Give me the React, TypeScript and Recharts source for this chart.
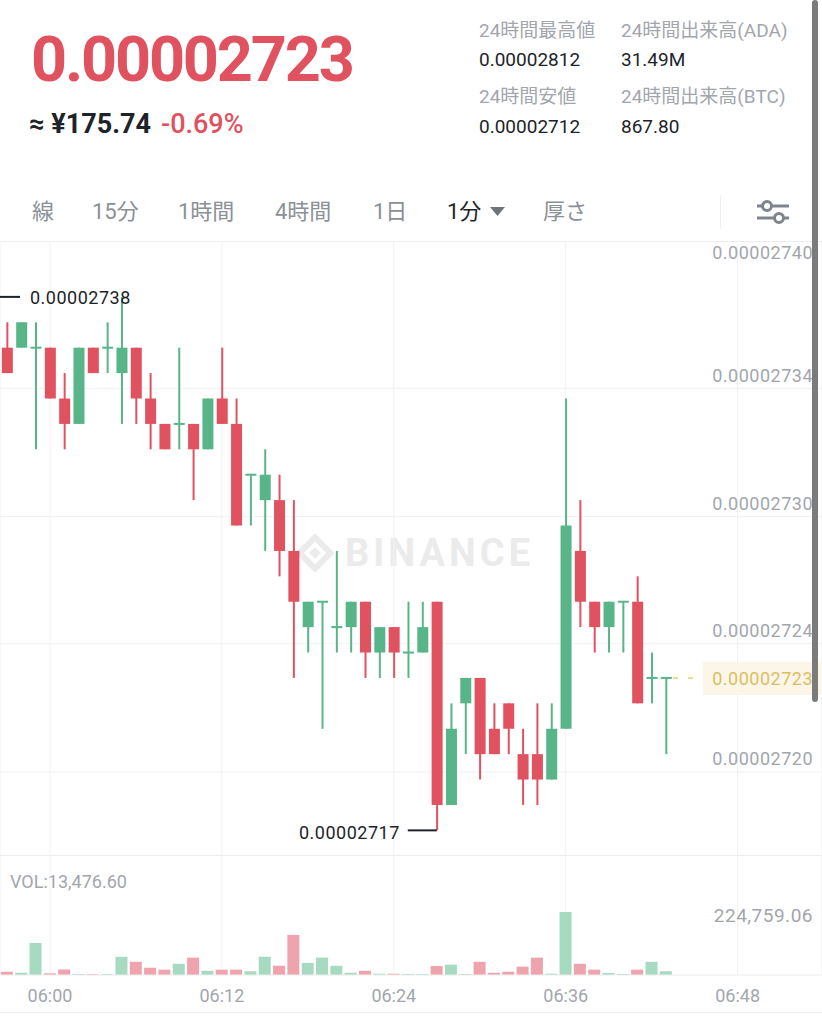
import React from "react";
import {
  ComposedChart,
  Bar,
  Cell,
  XAxis,
  YAxis,
  CartesianGrid,
  ReferenceDot,
} from "recharts";

// 1-minute candles, prices in satoshi (1e-8 BTC)
const TIMES = [
  "05:57", "05:58", "05:59", "06:00", "06:01", "06:02", "06:03", "06:04", "06:05", "06:06",
  "06:07", "06:08", "06:09", "06:10", "06:11", "06:12", "06:13", "06:14", "06:15", "06:16",
  "06:17", "06:18", "06:19", "06:20", "06:21", "06:22", "06:23", "06:24", "06:25", "06:26",
  "06:27", "06:28", "06:29", "06:30", "06:31", "06:32", "06:33", "06:34", "06:35", "06:36",
  "06:37", "06:38", "06:39", "06:40", "06:41", "06:42", "06:43",
];
const OPEN = [
  2736, 2736, 2736, 2736, 2734, 2733, 2736, 2736, 2735, 2736,
  2734, 2733, 2733, 2733, 2732, 2734, 2733, 2731, 2730, 2730,
  2728, 2725, 2726, 2725, 2725, 2726, 2724, 2725, 2724, 2724,
  2726, 2718, 2722, 2723, 2721, 2722, 2720, 2720, 2719, 2721,
  2728, 2726, 2725, 2726, 2726, 2723, 2723,
];
const HIGH = [
  2737, 2737, 2737, 2736, 2735, 2736, 2736, 2737, 2738, 2736,
  2735, 2733, 2736, 2733, 2734, 2736, 2734, 2731, 2732, 2731,
  2730, 2726, 2726, 2728, 2726, 2726, 2725, 2725, 2726, 2726,
  2726, 2722, 2723, 2723, 2722, 2722, 2721, 2722, 2722, 2734,
  2730, 2726, 2726, 2726, 2727, 2724, 2723,
];
const LOW = [
  2735, 2736, 2732, 2734, 2732, 2733, 2735, 2735, 2733, 2733,
  2732, 2732, 2732, 2730, 2732, 2733, 2729, 2729, 2728, 2727,
  2723, 2724, 2721, 2724, 2724, 2723, 2723, 2723, 2723, 2724,
  2717, 2718, 2720, 2719, 2720, 2720, 2718, 2718, 2719, 2721,
  2725, 2724, 2724, 2724, 2722, 2722, 2720,
];
const CLOSE = [
  2735, 2737, 2736, 2734, 2733, 2736, 2735, 2736, 2736, 2734,
  2733, 2732, 2733, 2732, 2734, 2733, 2729, 2731, 2731, 2728,
  2726, 2726, 2726, 2725, 2726, 2724, 2725, 2724, 2724, 2725,
  2718, 2721, 2723, 2720, 2720, 2721, 2719, 2719, 2721, 2729,
  2726, 2725, 2726, 2726, 2722, 2723, 2723,
];
const VOLUME = [
  11800, 8200, 114000, 6000, 20000, 3600, 3000, 3000, 65000, 47000,
  26000, 19000, 40000, 62000, 15000, 19000, 19000, 13000, 65000, 33000,
  143000, 43000, 62000, 33000, 8000, 15000, 4600, 4600, 4000, 3500,
  32000, 37000, 3500, 47000, 8000, 12000, 30000, 62000, 4600, 224759.06,
  40000, 19000, 7000, 3500, 19000, 47000, 13476.6,
];

const TIME_TICKS = ["06:00", "06:12", "06:24", "06:36", "06:48"];
const PRICE_GRID = [2739.4, 2734.4, 2729.35, 2724.35, 2719.3];
const PRICE_LABELS = ["0.00002740", "0.00002734", "0.00002730", "0.00002724", "0.00002720"];
const VOL_TICK = 224759.06;

const STATS = [
  { label: "24時間最高値", value: "0.00002812" },
  { label: "24時間出来高(ADA)", value: "31.49M" },
  { label: "24時間安値", value: "0.00002712" },
  { label: "24時間出来高(BTC)", value: "867.80" },
];
const TABS = ["線", "15分", "1時間", "4時間", "1日", "1分", "厚さ"];

const RED = "#e0525f";
const GREEN = "#58b588";
const VOL_RED = "#efa4ad";
const VOL_GREEN = "#a6dbc1";
const GRID = "#f1f1f1";
const MUTED = "#a2a6ac";
const DARK = "#1e2329";
const FONT = "Roboto, 'Noto Sans CJK JP', sans-serif";

const W = 822;
const X_DOMAIN = [-3.49, 53.89];
const P_DOMAIN = [2716.03, 2740.2];

const toMin = (s: string) => {
  const [h, m] = s.split(":").map(Number);
  return h * 60 + m - 360;
};
const fmt = (v: number) => (v / 1e8).toFixed(8);

const data = TIMES.map((time, i) => ({
  t: toMin(time),
  open: OPEN[i],
  high: HIGH[i],
  low: LOW[i],
  close: CLOSE[i],
  vol: VOLUME[i],
  up: CLOSE[i] >= OPEN[i],
}));

const last = data[data.length - 1];
const maxHigh = Math.max(...HIGH);
const minLow = Math.min(...LOW);
const minIdx = LOW.indexOf(minLow);

const Candle = (props: any) => {
  const { x, y, width, height, payload } = props;
  const top = Math.min(y, y + height);
  const h = Math.abs(height);
  const color = payload.up ? GREEN : RED;
  const ratio = h / (payload.high - payload.low);
  const yOf = (v: number) => top + (payload.high - v) * ratio;
  const cx = x + width / 2;
  const bTop = yOf(Math.max(payload.open, payload.close));
  const bBot = yOf(Math.min(payload.open, payload.close));
  return (
    <g>
      <line x1={cx} x2={cx} y1={top} y2={top + h} stroke={color} strokeWidth={2} />
      {bBot - bTop < 2 ? (
        <rect x={x} y={bTop - 1} width={width} height={2} fill={color} />
      ) : (
        <rect x={x} y={bTop} width={width} height={bBot - bTop} fill={color} />
      )}
    </g>
  );
};

// labels sit above their grid line; keep the top one inside the plot
const PriceTick = (props: any) => {
  const i = PRICE_GRID.indexOf(props.payload.value);
  return (
    <text x={W - 9} y={Math.max(props.y - 13, 11)} textAnchor="end" dominantBaseline="central" fill={MUTED} fontSize={18} letterSpacing={0.5} fontFamily={FONT}>
      {PRICE_LABELS[i]}
    </text>
  );
};

const VolTick = (props: any) => (
  <text x={W - 9} y={props.y + 4} textAnchor="end" dominantBaseline="central" fill={MUTED} fontSize={19} letterSpacing={0.5} fontFamily={FONT}>
    {props.payload.value.toLocaleString("en-US", { minimumFractionDigits: 2, maximumFractionDigits: 2 })}
  </text>
);

const TimeTick = (props: any) => (
  <text x={props.x} y={props.y + 18} textAnchor="middle" dominantBaseline="central" fill={MUTED} fontSize={18} fontFamily={FONT}>
    {TIME_TICKS.find((s) => toMin(s) === props.payload.value)}
  </text>
);

const MaxMark = (props: any) => (
  <g>
    <line x1={props.cx} x2={props.cx + 20} y1={props.cy} y2={props.cy} stroke={DARK} strokeWidth={2} />
    <text x={props.cx + 30} y={props.cy + 1} dominantBaseline="central" fill={DARK} fontSize={18} letterSpacing={0.5} fontFamily={FONT}>
      {fmt(maxHigh)}
    </text>
  </g>
);

const MinMark = (props: any) => (
  <g>
    <line x1={props.cx - 29} x2={props.cx} y1={props.cy} y2={props.cy} stroke={DARK} strokeWidth={2} />
    <text x={props.cx - 37} y={props.cy + 2} textAnchor="end" dominantBaseline="central" fill={DARK} fontSize={18} letterSpacing={0.5} fontFamily={FONT}>
      {fmt(minLow)}
    </text>
  </g>
);

const LastMark = (props: any) => (
  <g>
    <line x1={props.cx + 7} x2={props.cx + 35} y1={props.cy} y2={props.cy} stroke="#e9cb6c" strokeWidth={1.5} strokeDasharray="5 10" />
    <rect x={props.cx + 37} y={props.cy - 16} width={130} height={33} fill="#fbf6e8" />
    <text x={W - 9} y={props.cy + 1} textAnchor="end" dominantBaseline="central" fill="#dcbf62" fontSize={18} letterSpacing={0.5} fontFamily={FONT}>
      {fmt(last.close)}
    </text>
  </g>
);

const Txt = ({ x, cy, size, color, weight, children, spacing }: any) => (
  <div
    style={{
      position: "absolute",
      left: x,
      top: cy - size * 0.6,
      fontSize: size,
      lineHeight: `${size * 1.2}px`,
      color,
      fontWeight: weight || 400,
      letterSpacing: spacing || 0,
      whiteSpace: "nowrap",
    }}
  >
    {children}
  </div>
);

const TAB_X = [32, 92, 178, 275, 373, 447, 543];

export default function App() {
  return (
    <div style={{ position: "relative", width: W, height: 1024, background: "#fff", overflow: "hidden", fontFamily: FONT }}>
      <style>{"body{margin:0}"}</style>

      <div style={{ position: "absolute", left: 31, top: 28, fontSize: 63, lineHeight: "64px", fontWeight: 700, color: RED, letterSpacing: -2.2 }}>
        {fmt(last.close)}
      </div>
      <Txt x={29} cy={124} size={27} color={DARK} weight={700}>≈ ¥175.74</Txt>
      <Txt x={161} cy={124} size={27} color={RED} weight={500}>-0.69%</Txt>

      {STATS.map((s, i) => (
        <React.Fragment key={s.label}>
          <Txt x={i % 2 ? 621 : 479} cy={i < 2 ? 31 : 97} size={19} color={MUTED}>{s.label}</Txt>
          <Txt x={i % 2 ? 621 : 479} cy={i < 2 ? 60 : 127} size={19} color={DARK}>{s.value}</Txt>
        </React.Fragment>
      ))}

      {TABS.map((tab, i) => (
        <Txt key={tab} x={TAB_X[i]} cy={212} size={22} color={tab === "1分" ? DARK : "#8b9097"}>{tab}</Txt>
      ))}
      <svg width={16} height={10} style={{ position: "absolute", left: 490, top: 207 }}>
        <polygon points="0,0 15,0 7.5,9" fill="#6f747b" />
      </svg>
      <div style={{ position: "absolute", left: 720, top: 195, width: 1, height: 34, background: "#f0f0f0" }} />
      <svg width={36} height={30} style={{ position: "absolute", left: 755, top: 198 }}>
        <g stroke="#7d848d" strokeWidth={3} fill="#fff">
          <line x1={2} x2={34} y1={8} y2={8} />
          <line x1={2} x2={34} y1={20} y2={20} />
          <circle cx={12} cy={8} r={4.5} />
          <circle cx={24} cy={20} r={4.5} />
        </g>
      </svg>
      <div style={{ position: "absolute", left: 0, top: 241, width: W, height: 1, background: "#ececec" }} />

      {/* watermark */}
      <svg width={42} height={46} style={{ position: "absolute", left: 294, top: 530 }}>
        <rect x={10} y={12} width={22} height={22} transform="rotate(45 21 23)" fill="none" stroke="#ebebeb" strokeWidth={6} />
        <rect x={17} y={19} width={8} height={8} transform="rotate(45 21 23)" fill="#ebebeb" />
      </svg>
      <div style={{ position: "absolute", left: 345, top: 529, fontSize: 38, lineHeight: "48px", fontWeight: 700, color: "#ebebeb", letterSpacing: 4 }}>
        BINANCE
      </div>

      <div style={{ position: "absolute", left: 0, top: 241, width: W, height: 614 }}>
        <ComposedChart width={W} height={614} data={data} margin={{ top: 0, right: 0, bottom: 0, left: 0 }}>
          <CartesianGrid stroke={GRID} horizontalValues={PRICE_GRID.slice(1)} />
          <XAxis type="number" dataKey="t" domain={X_DOMAIN} allowDataOverflow ticks={TIME_TICKS.map(toMin)} hide />
          <YAxis
            orientation="right"
            mirror
            type="number"
            domain={P_DOMAIN}
            allowDataOverflow
            ticks={PRICE_GRID}
            interval={0}
            axisLine={false}
            tickLine={false}
            tick={<PriceTick />}
          />
          <Bar dataKey={(d: any) => [d.low, d.high]} barSize={11} shape={<Candle />} isAnimationActive={false} />
          <ReferenceDot x={X_DOMAIN[0]} y={maxHigh} ifOverflow="visible" shape={<MaxMark />} />
          <ReferenceDot x={data[minIdx].t} y={minLow} ifOverflow="visible" shape={<MinMark />} />
          <ReferenceDot x={last.t} y={last.close} ifOverflow="visible" shape={<LastMark />} />
        </ComposedChart>
      </div>
      <div style={{ position: "absolute", left: 0, top: 855, width: W, height: 1, background: "#ececec" }} />

      <Txt x={10} cy={882} size={18} color={MUTED}>
        VOL:{last.vol.toLocaleString("en-US", { minimumFractionDigits: 2 })}
      </Txt>
      <div style={{ position: "absolute", left: 0, top: 855, width: W, height: 157 }}>
        <ComposedChart width={W} height={157} data={data} margin={{ top: 0, right: 0, bottom: 0, left: 0 }}>
          <CartesianGrid stroke={GRID} horizontal={false} />
          <XAxis
            type="number"
            dataKey="t"
            domain={X_DOMAIN}
            allowDataOverflow
            ticks={TIME_TICKS.map(toMin)}
            interval={0}
            height={37}
            axisLine={{ stroke: "#ececec" }}
            tickLine={false}
            tickSize={0}
            tick={<TimeTick />}
          />
          <YAxis
            orientation="right"
            mirror
            type="number"
            domain={[0, 428000]}
            ticks={[VOL_TICK]}
            interval={0}
            axisLine={false}
            tickLine={false}
            tick={<VolTick />}
          />
          <Bar dataKey="vol" barSize={12} isAnimationActive={false}>
            {data.map((d, i) => (
              <Cell key={i} fill={d.up ? VOL_GREEN : VOL_RED} />
            ))}
          </Bar>
        </ComposedChart>
      </div>
      <div style={{ position: "absolute", left: 0, top: 1012, width: W, height: 1, background: "#ececec" }} />

      <div style={{ position: "absolute", left: 812, top: 0, width: 6, height: 702, background: "#7b7b7b", borderRadius: 3 }} />
    </div>
  );
}
